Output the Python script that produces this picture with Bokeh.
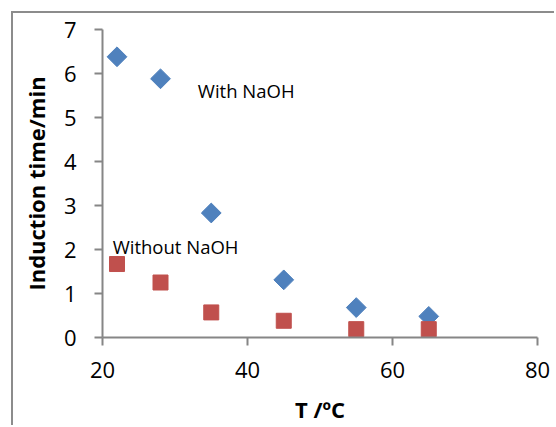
import numpy as np
from bokeh.plotting import figure
from bokeh.models import Range1d, FixedTicker
from bokeh.core.properties import value
from bokeh.embed import file_html
from bokeh.resources import INLINE

# ---- data ----
temps = [22, 28, 35, 45, 55, 65]
with_naoh = [6.38, 5.88, 2.83, 1.31, 0.68, 0.48]
without_naoh = [1.67, 1.25, 0.57, 0.38, 0.19, 0.19]
x_ticks = [20, 40, 60, 80]
y_ticks = [0, 1, 2, 3, 4, 5, 6, 7]
label_texts = ["With NaOH", "Without NaOH"]
label_x = [33.15, 21.4]
label_y = [5.62, 2.07]

AXIS_GRAY = "#868686"
FONT = "Open Sans"

p = figure(width=543, height=414,
           x_range=Range1d(20, 80), y_range=Range1d(0, 7),
           output_backend="svg", toolbar_location=None,
           min_border_left=89, min_border_right=19,
           min_border_top=16, min_border_bottom=90)
p.styles = {"margin-left": "11px", "margin-top": "11px",
            "border-left": "2px solid #8c8c8c",
            "border-top": "2px solid #8c8c8c"}

p.xgrid.visible = False
p.ygrid.visible = False
p.outline_line_color = None
p.background_fill_color = "white"
p.border_fill_color = "white"

p.xaxis.ticker = FixedTicker(ticks=x_ticks)
p.yaxis.ticker = FixedTicker(ticks=y_ticks)

for ax in (p.xaxis[0], p.yaxis[0]):
    ax.axis_line_color = AXIS_GRAY
    ax.axis_line_width = 2
    ax.major_tick_line_color = AXIS_GRAY
    ax.major_tick_line_width = 2
    ax.major_tick_out = 8
    ax.major_tick_in = 0
    ax.minor_tick_line_color = None
    ax.major_label_text_font = FONT
    ax.major_label_text_font_size = "22px"
    ax.major_label_text_color = "#000000"
    ax.axis_label_text_font = FONT
    ax.axis_label_text_font_size = "22px"
    ax.axis_label_text_font_style = "bold"
    ax.axis_label_text_color = "#000000"

p.xaxis.axis_label = "T /ºC"
p.yaxis.axis_label = "Induction time/min"
p.xaxis.major_label_standoff = 16
p.xaxis.axis_label_standoff = 13
p.yaxis.major_label_standoff = 18
p.yaxis.axis_label_standoff = 10

p.scatter(temps, with_naoh, marker="square", size=14, angle=np.pi / 4,
          fill_color="#4F81BD", line_color="#4F81BD")
p.scatter(temps, without_naoh, marker="square", size=15,
          fill_color="#C0504D", line_color="#C0504D")

p.text(x=label_x, y=label_y, text=label_texts,
       text_font=value(FONT), text_font_size=value("18.5px"),
       text_baseline="alphabetic", text_align="left", text_color="#000000")

open("out.html", "w").write(file_html(p, INLINE))
